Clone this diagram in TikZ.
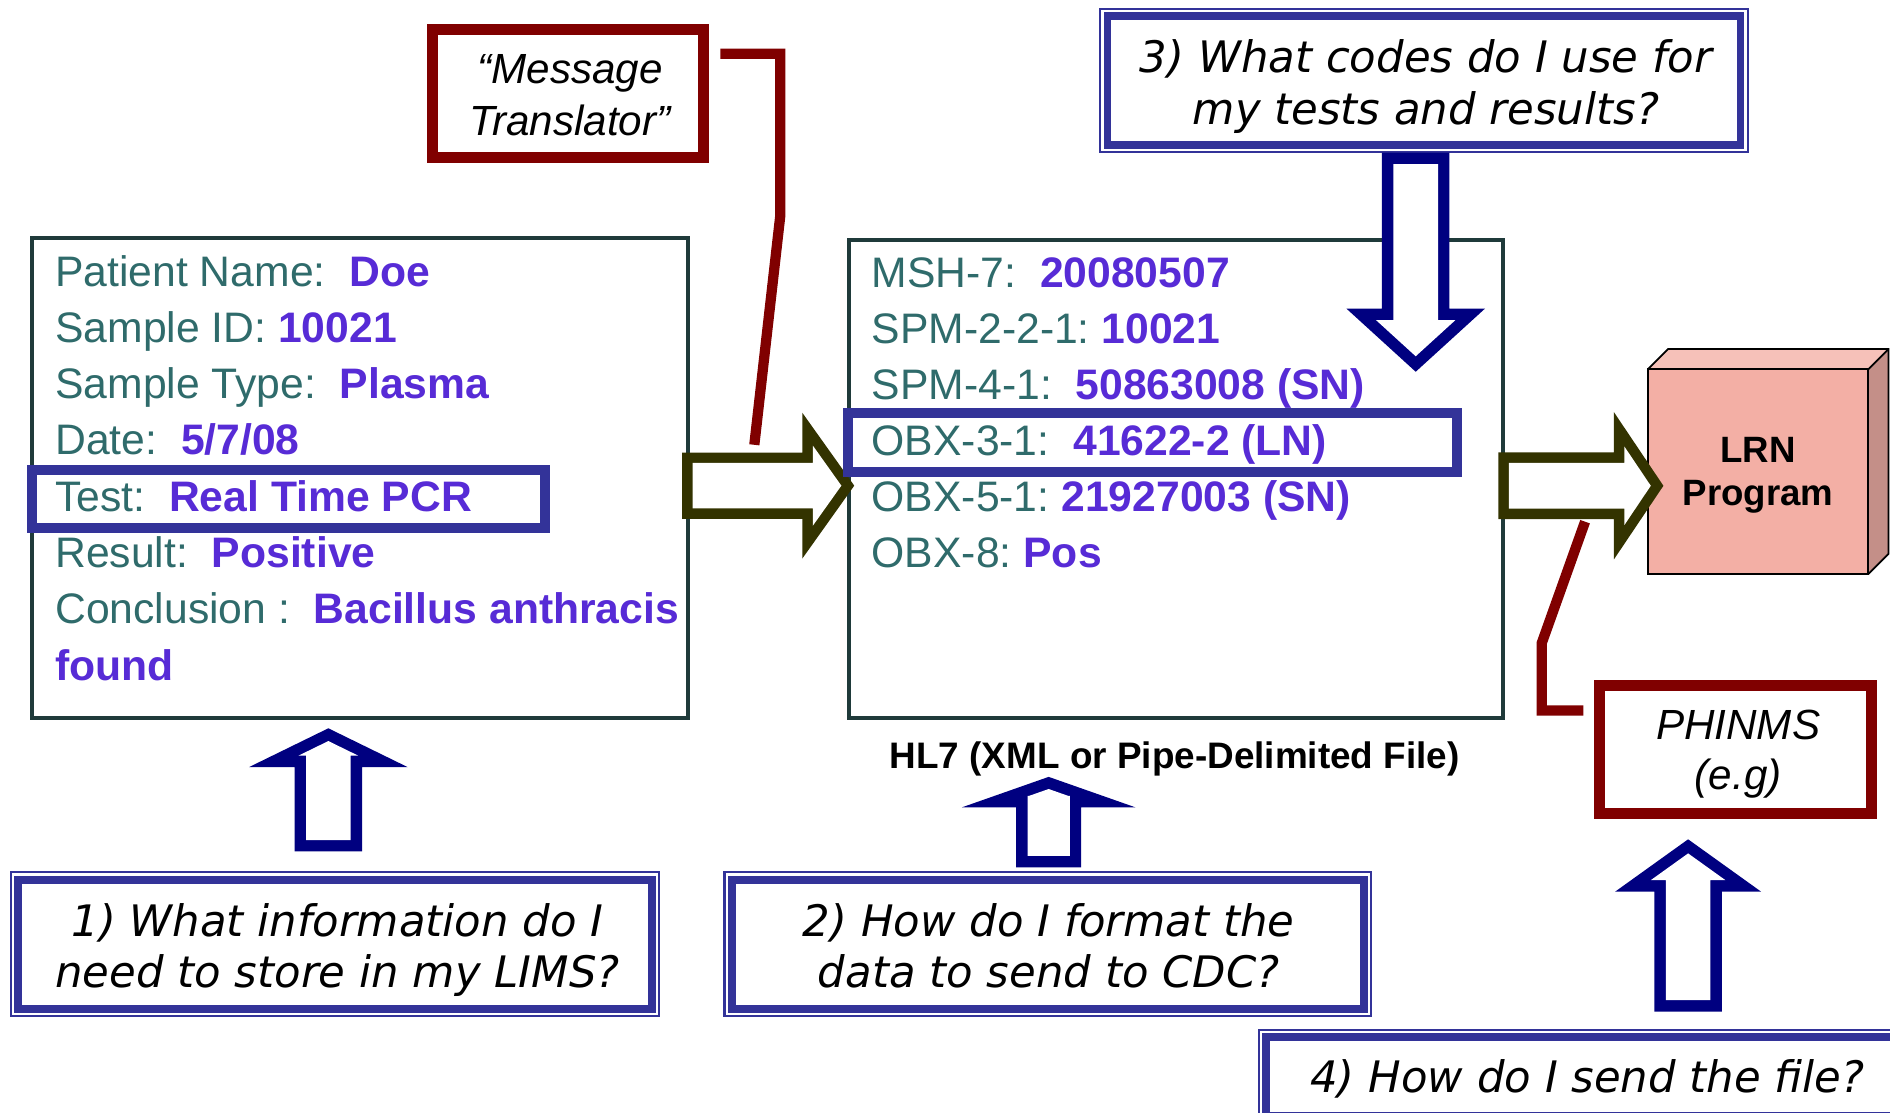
\documentclass[tikz,border=0pt]{standalone}
\usepackage{fontspec}
\setmainfont{Liberation Sans}
\newfontfamily\qfont{DejaVu Sans}[ItalicFont={DejaVu Sans Oblique}]
\usetikzlibrary{calc}

\definecolor{labcol}{HTML}{2F6B6B}
\definecolor{valcol}{HTML}{572BD6}
\definecolor{boxcol}{HTML}{1F3A3A}
\definecolor{hlblue}{HTML}{333399}
\definecolor{navyc}{HTML}{000080}
\definecolor{olivec}{HTML}{333300}
\definecolor{darkredc}{HTML}{800000}
\definecolor{lrnfront}{HTML}{F3AFA5}
\definecolor{lrntop}{HTML}{F6C1B9}
\definecolor{lrnside}{HTML}{C48F88}

\newcommand\val[1]{{\bfseries\color{valcol}#1}}

% vertical block arrow: color, cx, tip y, head-base y, back y, half head width, half shaft width, stroke
\newcommand\blockarrowV[8]{%
  \pgfmathsetmacro\baS{sign(#5-#3)}%
  \pgfmathsetmacro\baD{abs(#4-#3)}%
  \pgfmathsetmacro\baTT{#8*sqrt(#6*#6+\baD*\baD)/#6}%
  \pgfmathsetmacro\baTip{#3+\baS*\baTT}%
  \pgfmathsetmacro\baHi{#4-\baS*#8}%
  \pgfmathsetmacro\baHwi{#6*(\baD-#8-\baTT)/\baD}%
  \pgfmathsetmacro\baBi{#5-\baS*#8}%
  \fill[#1] (#2,#3) -- (#2-#6,#4) -- (#2-#7,#4) -- (#2-#7,#5) -- (#2+#7,#5) -- (#2+#7,#4) -- (#2+#6,#4) -- cycle;
  \fill[white] (#2,\baTip) -- (#2-\baHwi,\baHi) -- (#2-#7+#8,\baHi) -- (#2-#7+#8,\baBi) -- (#2+#7-#8,\baBi) -- (#2+#7-#8,\baHi) -- (#2+\baHwi,\baHi) -- cycle;
}
% horizontal block arrow: color, cy, tip x, head-base x, back x, half head width, half shaft width, stroke
\newcommand\blockarrowH[8]{%
  \pgfmathsetmacro\baS{sign(#5-#3)}%
  \pgfmathsetmacro\baD{abs(#4-#3)}%
  \pgfmathsetmacro\baTT{#8*sqrt(#6*#6+\baD*\baD)/#6}%
  \pgfmathsetmacro\baTip{#3+\baS*\baTT}%
  \pgfmathsetmacro\baHi{#4-\baS*#8}%
  \pgfmathsetmacro\baHwi{#6*(\baD-#8-\baTT)/\baD}%
  \pgfmathsetmacro\baBi{#5-\baS*#8}%
  \fill[#1] (#3,#2) -- (#4,#2-#6) -- (#4,#2-#7) -- (#5,#2-#7) -- (#5,#2+#7) -- (#4,#2+#7) -- (#4,#2+#6) -- cycle;
  \fill[white] (\baTip,#2) -- (\baHi,#2-\baHwi) -- (\baHi,#2-#7+#8) -- (\baBi,#2-#7+#8) -- (\baBi,#2+#7-#8) -- (\baHi,#2+#7-#8) -- (\baHi,#2+\baHwi) -- cycle;
}

\tikzset{
  databox/.style={draw=boxcol, line width=1.65pt, fill=white, inner sep=0pt, outer sep=0pt},
  hlbox/.style={draw=hlblue, line width=4.15pt, inner sep=0pt, outer sep=0pt},
  redbox/.style={draw=darkredc, line width=4.5pt, fill=white, inner sep=0pt, outer sep=0pt},
  redtext/.style={anchor=base, inner sep=0pt, font=\itshape\fontsize{17.5}{21}\selectfont},
  qbox/.style={draw=hlblue, line width=3.25pt, fill=white, inner sep=0pt, outer sep=0pt},
  qtext/.style={anchor=base, inner sep=0pt, font=\qfont\itshape\fontsize{18}{21}\selectfont},
  qframe/.style={draw=hlblue, line width=0.85pt},
  datatext/.style={anchor=base west, inner sep=0pt, text=labcol, font=\fontsize{17.7}{21}\selectfont\frenchspacing},
  lrntext/.style={anchor=base, inner sep=0pt, font=\bfseries\fontsize{15.2}{18}\selectfont},
  redline/.style={draw=darkredc, line width=4.25pt, line join=miter},
  lrnface/.style={draw=black, line width=0.75pt, line join=miter},
}

\begin{document}
\begin{tikzpicture}[x=0.5pt,y=-0.5pt]
\useasboundingbox (0,0) rectangle (1568,923);
\clip (0,0) rectangle (1568,923);
\fill[white] (0,0) rectangle (1568,923);

% main data boxes
\node[databox, minimum width=272pt, minimum height=199pt] (lims) at (298.5,396.5) {};
\node[databox, minimum width=271.4pt, minimum height=198.15pt] (hl7) at (975.4,397.35) {};

% red callout boxes
\node[redbox, minimum width=112.65pt, minimum height=53.3pt] (mt) at (471.3,77.7) {};
\node[redtext] (mtA) at (473,69.1) {``Message};
\node[redtext] (mtB) at (473,112) {Translator''};
\node[redbox, minimum width=113pt, minimum height=53.3pt] (phinms) at (1439.9,621.9) {};
\node[redtext] (phA) at (1442,613.4) {PHINMS};
\node[redtext] (phB) at (1442,654.8) {(e.g)};

% question boxes
\node[qbox, minimum width=262.9pt, minimum height=53.6pt] (q1) at (278.1,783.4) {};
\node[qbox, minimum width=262.25pt, minimum height=53.6pt] (q2) at (869.3,783.4) {};
\node[qbox, minimum width=262.55pt, minimum height=53.5pt] (q3) at (1181.4,66.75) {};
\node[qbox, minimum width=262.5pt, minimum height=32.5pt] (q4) at (1313,893) {};
\foreach \n in {q1,q2,q3,q4}
  \draw[qframe] ([shift={(-3pt,3pt)}]\n.north west) rectangle ([shift={(3pt,-3pt)}]\n.south east);
\node[qtext] (q1a) at (280,777) {1) What information do I};
\node[qtext] (q1b) at (280,819) {need to store in my LIMS?};
\node[qtext] (q2a) at (870,777) {2) How do I format the};
\node[qtext] (q2b) at (870,819) {data to send to CDC?};
\node[qtext] (q3a) at (1183,60.5) {3) What codes do I use for};
\node[qtext] (q3b) at (1183,103) {my tests and results?};
\node[qtext] (q4a) at (1317,906) {4) How do I send the file?};

% LRN program cuboid
\fill[lrntop] (1367,306.4) -- (1383.8,289.6) -- (1566.8,289.6) -- (1550,306.4) -- cycle;
\fill[lrnside] (1550,306.4) -- (1566.8,289.6) -- (1566.8,459.4) -- (1550,476.2) -- cycle;
\node[lrnface, fill=lrnfront, inner sep=0pt, outer sep=0pt, minimum width=91.5pt, minimum height=84.9pt] (lrn) at (1458.5,391.3) {};
\draw[lrnface] (lrn.north west) -- ([shift={(16.8,-16.8)}]lrn.north west) -- ([shift={(16.8,-16.8)}]lrn.north east)
  -- ([shift={(16.8,-16.8)}]lrn.south east) -- (lrn.south east);
\draw[lrnface] (lrn.north east) -- ([shift={(16.8,-16.8)}]lrn.north east);
\node[lrntext] (lrnA) at (1458.5,383.8) {LRN};
\node[lrntext] (lrnB) at (1458.5,419.5) {Program};

% red connectors
\coordinate (c1start) at (597.6,44.6);
\coordinate (c1end) at (625.8,369);
\draw[redline] (c1start) -- (647.4,44.6) -- (647.4,178.4) -- (c1end);
\coordinate (c2start) at (1313.5,589.5);
\coordinate (c2end) at (1315,432.8);
\draw[redline] (c2start) -- (1279,589.5) -- (1279,533.7) -- (c2end);

% LIMS text
\node[datatext] (l0) at (45.5,237.3) {Patient Name:\ \ \val{Doe}};
\node[datatext] (l1) at (45.5,284.0) {Sample ID: \val{10021}};
\node[datatext] (l2) at (45.5,330.7) {Sample Type:\ \ \val{Plasma}};
\node[datatext] (l3) at (45.5,377.4) {Date:\ \ \val{5/7/08}};
\node[datatext] (l4) at (45.5,424.1) {Test:\ \ \val{Real Time PCR}};
\node[datatext] (l5) at (45.5,470.8) {Result:\ \ \val{Positive}};
\node[datatext] (l6) at (45.5,517.5) {Conclusion :\ \ \val{Bacillus anthracis}};
\node[datatext] (l7) at (45.5,564.2) {\val{found}};

% HL7 text
\node[datatext] (h0) at (722.8,238.2) {MSH-7:\ \ \val{20080507}};
\node[datatext] (h1) at (722.8,284.8) {SPM-2-2-1: \val{10021}};
\node[datatext] (h2) at (722.8,331.4) {SPM-4-1:\ \ \val{50863008 (SN)}};
\node[datatext] (h3) at (722.8,378.0) {OBX-3-1:\ \ \val{41622-2 (LN)}};
\node[datatext] (h4) at (722.8,424.6) {OBX-5-1: \val{21927003 (SN)}};
\node[datatext] (h5) at (722.8,471.2) {OBX-8: \val{Pos}};

% olive block arrows
\blockarrowH{olivec}{402.9}{708.7}{665.6}{566}{60.5}{27.5}{8.7}
\blockarrowH{olivec}{403}{1380}{1339}{1243}{61}{27.7}{8.7}

% navy block arrows
\blockarrowV{navyc}{272.4}{604.2}{636.4}{706.4}{65.8}{28}{9.5}
\blockarrowV{navyc}{870}{644.5}{669.8}{719.5}{72}{27}{9.5}
\blockarrowV{navyc}{1174.5}{308.4}{256}{126.7}{57.5}{28}{9.5}
\blockarrowV{navyc}{1400.5}{696.3}{739.7}{839.3}{60.5}{28}{9.5}

% highlight boxes
\node[hlbox, minimum width=212.8pt, minimum height=24.05pt] (testhl) at (239,414.2) {};
\node[hlbox, minimum width=252.8pt, minimum height=24.4pt] (obxhl) at (956,367.2) {};

% HL7 label
\node[anchor=base, inner sep=0pt, font=\bfseries\fontsize{15.3}{18}\selectfont] (hl7label) at (974.5,637.3) {HL7 (XML or Pipe-Delimited File)};
\end{tikzpicture}
\end{document}
